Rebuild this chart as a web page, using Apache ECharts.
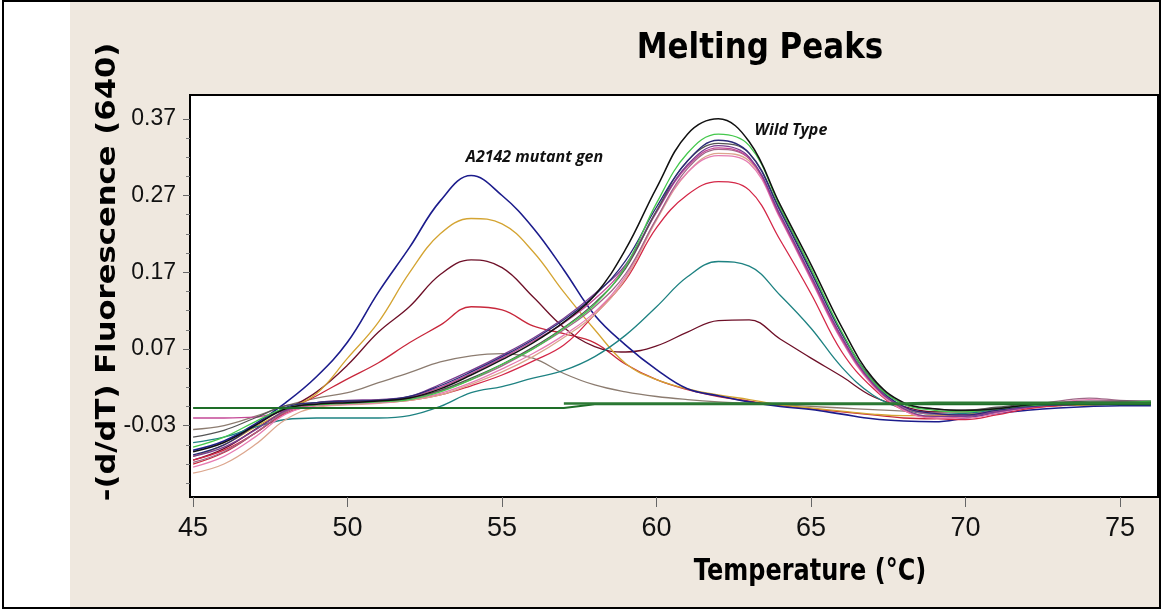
<!DOCTYPE html>
<html lang="en">
<head>
<meta charset="UTF-8">
<title>Melting Peaks</title>
<script src="https://cdn.jsdelivr.net/npm/echarts@6/dist/echarts.min.js"></script>
<style>
    html, body { margin: 0; padding: 0; background: #fff; }
    #chart { width: 1167px; height: 612px; }
</style>
</head>
<body>
<div id="chart"></div>
<script>
    // temperature samples (°C)
    var temps = [45,46,47,48,49,50,51,52,53,54,55,56,57,58,59,60,61,62,63,64,65,66,67,68,69,70,71,72,73,74,75,76];

    // tick labels
    var yTicks = [-0.03, 0.07, 0.17, 0.27, 0.37];
    var xTicks = [45, 50, 55, 60, 65, 70, 75];

    // mutant curves (peak near 54 °C)
    var mutBlue   = [-0.062,-0.05,-0.028,0.0,0.034,0.079,0.144,0.202,0.263,0.296,0.27,0.228,0.173,0.114,0.075,0.043,0.018,0.009,0.001,-0.005,-0.009,-0.015,-0.021,-0.024,-0.025,-0.02,-0.014,-0.01,-0.007,-0.005,-0.004,-0.004];
    var mutGold   = [-0.07,-0.055,-0.032,-0.01,0.012,0.058,0.105,0.169,0.22,0.24,0.233,0.197,0.144,0.095,0.051,0.03,0.018,0.01,0.004,-0.003,-0.007,-0.011,-0.015,-0.017,-0.017,-0.015,-0.01,-0.006,-0.004,-0.003,-0.002,-0.002];
    var mutMaroon = [-0.075,-0.06,-0.035,-0.01,0.014,0.049,0.092,0.125,0.167,0.186,0.176,0.138,0.098,0.073,0.066,0.074,0.092,0.107,0.108,0.083,0.058,0.034,0.008,-0.005,-0.012,-0.012,-0.008,-0.005,-0.003,-0.002,-0.002,-0.002];
    var mutRed    = [-0.08,-0.065,-0.04,-0.012,0.009,0.031,0.052,0.078,0.101,0.125,0.121,0.1,0.09,0.078,0.05,0.03,0.017,0.008,0.002,-0.004,-0.008,-0.012,-0.016,-0.02,-0.021,-0.018,-0.012,-0.007,-0.004,-0.003,-0.002,-0.002];
    var mutGray   = [-0.035,-0.03,-0.018,-0.004,0.006,0.013,0.026,0.039,0.053,0.061,0.064,0.058,0.038,0.023,0.014,0.008,0.004,0.001,-0.001,-0.003,-0.005,-0.007,-0.009,-0.011,-0.012,-0.01,-0.007,-0.004,-0.002,-0.001,0.0,0.0];

    // wild type curves (peak near 62 °C)
    var wtBlack   = [-0.064,-0.052,-0.03,-0.008,-0.002,0.0,0.002,0.006,0.018,0.036,0.056,0.078,0.105,0.14,0.2,0.28,0.35,0.37,0.34,0.258,0.18,0.098,0.032,0.0,-0.008,-0.01,-0.008,-0.003,0.0,0.0,0.0,0.0];
    var wtGreen   = [-0.058,-0.045,-0.025,-0.007,-0.003,-0.001,0.001,0.004,0.014,0.03,0.05,0.07,0.097,0.128,0.178,0.26,0.325,0.35,0.335,0.255,0.175,0.092,0.028,-0.002,-0.01,-0.012,-0.008,-0.004,-0.002,-0.001,0.0,0.002];
    var wtNavy    = [-0.068,-0.055,-0.03,-0.006,0.0,0.002,0.003,0.008,0.022,0.04,0.06,0.082,0.108,0.14,0.185,0.255,0.315,0.342,0.325,0.25,0.17,0.09,0.028,-0.005,-0.014,-0.016,-0.01,-0.005,-0.003,-0.002,-0.002,-0.002];
    var wtPurple  = [-0.07,-0.058,-0.036,-0.01,0.0,0.003,0.004,0.008,0.024,0.042,0.062,0.084,0.11,0.142,0.18,0.25,0.31,0.335,0.32,0.245,0.165,0.085,0.025,-0.008,-0.018,-0.018,-0.012,-0.006,-0.003,-0.002,-0.001,-0.001];
    var wtGray    = [-0.045,-0.036,-0.02,-0.004,0.0,0.002,0.003,0.006,0.016,0.032,0.05,0.072,0.098,0.13,0.175,0.25,0.315,0.338,0.325,0.252,0.172,0.09,0.03,-0.002,-0.008,-0.01,-0.006,-0.002,0.0,0.002,0.002,0.002];
    var wtMauve   = [-0.078,-0.064,-0.04,-0.012,-0.002,0.0,0.002,0.005,0.015,0.03,0.048,0.07,0.095,0.125,0.168,0.24,0.305,0.33,0.318,0.245,0.165,0.085,0.026,-0.006,-0.015,-0.016,-0.01,-0.004,0.002,0.006,0.003,0.002];
    var wtPink    = [-0.084,-0.07,-0.045,-0.015,-0.004,-0.002,0.0,0.004,0.012,0.026,0.044,0.064,0.088,0.118,0.165,0.24,0.3,0.322,0.312,0.24,0.16,0.08,0.022,-0.01,-0.02,-0.02,-0.014,-0.006,0.0,0.004,0.002,0.0];
    var wtTan     = [-0.092,-0.08,-0.055,-0.022,-0.006,-0.003,-0.001,0.003,0.01,0.024,0.04,0.06,0.085,0.115,0.162,0.238,0.3,0.325,0.315,0.243,0.163,0.083,0.024,-0.008,-0.018,-0.018,-0.012,-0.006,-0.002,0.0,0.0,0.0];
    var wtMagenta = [-0.02,-0.02,-0.019,-0.01,-0.002,0.001,0.003,0.007,0.02,0.038,0.058,0.08,0.104,0.135,0.178,0.248,0.308,0.332,0.318,0.242,0.162,0.082,0.024,-0.006,-0.014,-0.016,-0.012,-0.006,-0.002,0.0,0.001,0.001];
    var wtRed     = [-0.075,-0.062,-0.04,-0.014,-0.004,-0.002,0.0,0.003,0.01,0.022,0.036,0.054,0.075,0.115,0.16,0.228,0.271,0.288,0.277,0.212,0.142,0.066,0.019,-0.01,-0.02,-0.022,-0.016,-0.008,-0.004,-0.002,-0.002,-0.002];
    var wtTeal    = [-0.052,-0.045,-0.032,-0.022,-0.02,-0.02,-0.02,-0.017,-0.005,0.013,0.021,0.032,0.042,0.06,0.088,0.125,0.164,0.184,0.178,0.14,0.097,0.046,0.01,-0.008,-0.015,-0.014,-0.009,-0.005,-0.003,-0.002,-0.002,-0.002];

    // flat negative controls
    var ctrlGreen  = [-0.007,-0.007,-0.007,-0.007,-0.007,-0.007,-0.007,-0.007,-0.007,-0.007,-0.007,-0.007,-0.007,-0.002,-0.002,-0.002,-0.002,-0.002,-0.002,-0.002,-0.002,-0.002,-0.002,-0.002,-0.002,-0.002,-0.002,-0.002,-0.002,-0.002,-0.002,-0.002];
    var ctrlGreen2 = [null,null,null,null,null,null,null,null,null,null,null,null,-0.001,-0.001,-0.001,-0.001,-0.001,-0.001,-0.001,-0.001,-0.001,-0.001,-0.001,-0.001,0.0,0.0,0.0,0.0,0.0,0.0,0.0,0.0];

    var sans = "'Liberation Sans', Arial, sans-serif";

    function pairs(vals) {
        var out = [];
        for (var i = 0; i < temps.length; i++) {
            out.push([temps[i], vals[i]]);
        }
        return out;
    }

    // minor ticks every 0.025 between the labelled ones
    var yMinor = [];
    for (var k = -3; k <= 16; k++) {
        var v = Math.round((-0.03 + k * 0.025) * 1000) / 1000;
        if (v > -0.123 && v < 0.401 && k % 4 !== 0) yMinor.push(v);
    }

    var curves = [
        { name: 'mutGray', data: mutGray, color: '#8c7c70' },
        { name: 'mutRed', data: mutRed, color: '#c8283c' },
        { name: 'mutMaroon', data: mutMaroon, color: '#6e1028' },
        { name: 'mutGold', data: mutGold, color: '#d4a432' },
        { name: 'mutBlue', data: mutBlue, color: '#1c1c8c', width: 1.6 },
        { name: 'wtTeal', data: wtTeal, color: '#1e8282' },
        { name: 'wtRed', data: wtRed, color: '#d42848' },
        { name: 'wtTan', data: wtTan, color: '#dca68e' },
        { name: 'wtPink', data: wtPink, color: '#e67cb2' },
        { name: 'wtMauve', data: wtMauve, color: '#a06888' },
        { name: 'wtMagenta', data: wtMagenta, color: '#c44896' },
        { name: 'wtPurple', data: wtPurple, color: '#7a3c90' },
        { name: 'wtGray', data: wtGray, color: '#555555' },
        { name: 'wtNavy', data: wtNavy, color: '#2a2a78' },
        { name: 'wtGreen', data: wtGreen, color: '#44c84c' },
        { name: 'wtBlack', data: wtBlack, color: '#111111', width: 1.5 },
        { name: 'ctrlGreen', data: ctrlGreen, color: '#1e6e28', width: 2, flat: true },
        { name: 'ctrlGreen2', data: ctrlGreen2, color: '#2c7a34', width: 2.5, flat: true }
    ];

    var series = curves.map(function (c) {
        return {
            name: c.name,
            type: 'line',
            data: pairs(c.data),
            smooth: c.flat ? false : 0.4,
            showSymbol: false,
            connectNulls: false,
            silent: true,
            lineStyle: { color: c.color, width: c.width || 1.3 }
        };
    });

    // text labels in the plot, placed by data coordinates
    var annot = { fontFamily: "'Open Sans', sans-serif", fontStyle: 'italic', fontWeight: 'bold', fontSize: 16, color: '#111' };
    series[4].markPoint = {
        symbol: 'circle', symbolSize: 0, silent: true,
        label: Object.assign({ show: true, position: 'inside', formatter: 'A2142 mutant gen' }, annot),
        data: [{ coord: [56.05, 0.32] }]
    };
    series[15].markPoint = {
        symbol: 'circle', symbolSize: 0, silent: true,
        label: Object.assign({ show: true, position: 'inside', formatter: 'Wild Type' }, annot),
        data: [{ coord: [64.35, 0.355] }]
    };

    var chart = echarts.init(document.getElementById('chart'));
    var option = {
        backgroundColor: '#ffffff',
        animation: false,
        graphic: [
            { type: 'rect', z: -10, silent: true, shape: { x: 70, y: 2, width: 1090, height: 605 }, style: { fill: '#efe8df' } },
            { type: 'rect', z: 100, silent: true, shape: { x: 3, y: 1, width: 1157, height: 607 }, style: { fill: 'none', stroke: '#000', lineWidth: 2 } },
            {
                type: 'text', x: 760, y: 49, scaleX: 0.86, silent: true,
                style: { text: 'Melting Peaks', fontFamily: "'DejaVu Sans', sans-serif", fontWeight: 'bold', fontSize: 36, fill: '#000', textAlign: 'center', textVerticalAlign: 'middle' }
            },
            {
                type: 'text', x: 108, y: 272, rotation: Math.PI / 2, scaleX: 1.18, silent: true,
                style: { text: '-(d/dT) Fluorescence (640)', fontFamily: "'DejaVu Sans', sans-serif", fontWeight: 'bold', fontSize: 26, fill: '#000', textAlign: 'center', textVerticalAlign: 'middle' }
            },
            {
                type: 'text', x: 810, y: 572, scaleX: 0.8, silent: true,
                style: { text: 'Temperature (°C)', fontFamily: "'DejaVu Sans', sans-serif", fontWeight: 'bold', fontSize: 30, fill: '#000', textAlign: 'center', textVerticalAlign: 'middle' }
            }
        ],
        grid: {
            left: 190, right: 9, top: 95, bottom: 115,
            show: true, backgroundColor: '#ffffff', borderColor: '#000', borderWidth: 2,
            outerBoundsMode: 'none'
        },
        xAxis: {
            type: 'value',
            min: 44.9,
            max: 76.23,
            axisLine: { show: true, onZero: false, lineStyle: { color: '#000', width: 2 } },
            axisTick: { show: true, customValues: xTicks, length: 10, lineStyle: { color: '#666', width: 1 } },
            axisLabel: { customValues: xTicks, margin: 18, fontFamily: sans, fontSize: 27, color: '#111' },
            splitLine: { show: false }
        },
        yAxis: [
            {
                type: 'value',
                min: -0.123,
                max: 0.401,
                axisLine: { show: true, onZero: false, lineStyle: { color: '#000', width: 2 } },
                axisTick: { show: true, customValues: yTicks, length: 7, lineStyle: { color: '#666' } },
                axisLabel: {
                    customValues: yTicks, margin: 14, fontFamily: sans, fontSize: 23, color: '#111',
                    formatter: function (v) { return v.toFixed(2); }
                },
                splitLine: { show: false }
            },
            {
                type: 'value',
                min: -0.123,
                max: 0.401,
                position: 'left',
                axisLine: { show: false },
                axisTick: { show: true, customValues: yMinor, length: 4, lineStyle: { color: '#777' } },
                axisLabel: { show: false },
                splitLine: { show: false }
            }
        ],
        series: series
    };
    chart.setOption(option);
</script>
</body>
</html>
